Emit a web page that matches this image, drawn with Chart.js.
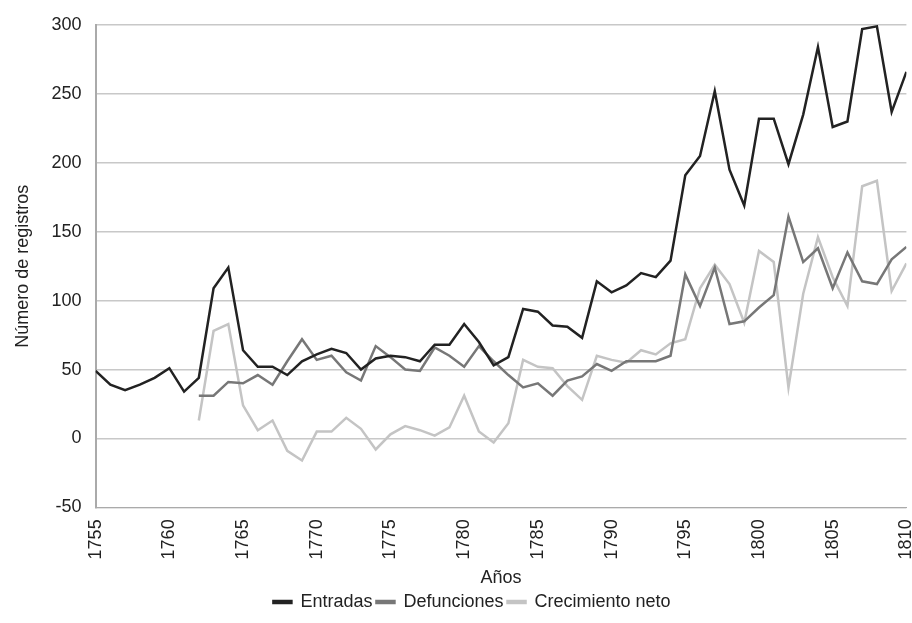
<!DOCTYPE html>
<html><head><meta charset="utf-8">
<script src="https://cdn.jsdelivr.net/npm/chart.js@4"></script>
<style>body{margin:0;background:#fff;overflow:hidden}#w{width:932px;height:623px}</style>
</head><body><div id="w"><canvas id="c"></canvas></div>
<script>
const years = Array.from({length:56},(_,i)=>1755+i);
const entradas = [49,39,35,39,44,51,34,44,109,124,64,52,52,46,56,61,65,62,50,58,60,59,56,68,68,83,70,53,59,94,92,82,81,73,114,106,111,120,117,129,191,205,252,195,169,232,232,199,235,284,226,230,297,299,237,266];
const defunciones = [31,31,41,40,46,39,56,72,57,60,48,42,67,59,50,49,66,60,52,67,56,46,37,40,31,42,45,54,49,56,56,56,60,119,96,124,83,85,95,104,161,128,138,109,135,114,112,130,139];
const crecimiento = [13,78,83,24,6,13,-9,-16,5,5,15,7,-8,3,9,6,2,8,31,5,-3,11,57,52,51,38,28,60,57,55,64,61,69,72,109,126,112,84,136,128,37,105,146,117,96,183,187,107,127];
const startLate = 1762;
const pts = (arr,start)=>arr.map((v,i)=>({x:start+i,y:v}));
const font = {family:'Arial, "Liberation Sans", sans-serif', size:18};
new Chart(document.getElementById('c'),{
  type:'line',
  data:{datasets:[
    {label:'Entradas',data:pts(entradas,1755),borderColor:'#222',backgroundColor:'#222',borderWidth:2.5,pointRadius:0,tension:0},
    {label:'Defunciones',data:pts(defunciones,startLate),borderColor:'#777',backgroundColor:'#777',borderWidth:2.5,pointRadius:0,tension:0},
    {label:'Crecimiento neto',data:pts(crecimiento,startLate),borderColor:'#c4c4c4',backgroundColor:'#c4c4c4',borderWidth:2.5,pointRadius:0,tension:0}
  ]},
  options:{animation:false,responsive:true,maintainAspectRatio:false,
    layout:{padding:{top:25,right:0,left:12,bottom:2}},
    plugins:{legend:{position:'bottom',labels:{font,color:'#222',boxWidth:18,boxHeight:2,padding:4}},tooltip:{enabled:false}},
    scales:{
      x:{type:'linear',min:1755,max:1810,
        ticks:{stepSize:5,font,color:'#222',maxRotation:90,minRotation:90,padding:4,callback:v=>String(v)},
        grid:{display:false,drawTicks:true},border:{color:'#aaa'},
        title:{display:true,text:'Años',font,color:'#222',padding:{top:4,bottom:0}}},
      y:{min:-50,max:300,
        ticks:{stepSize:50,font,color:'#222',padding:14},
        grid:{color:'#c8c8c8',lineWidth:1.5,drawTicks:false},border:{color:'#aaa',width:2},
        title:{display:true,text:'Número de registros',font,color:'#222',padding:{top:0,bottom:4}}}
    }}
});
</script></body></html>
